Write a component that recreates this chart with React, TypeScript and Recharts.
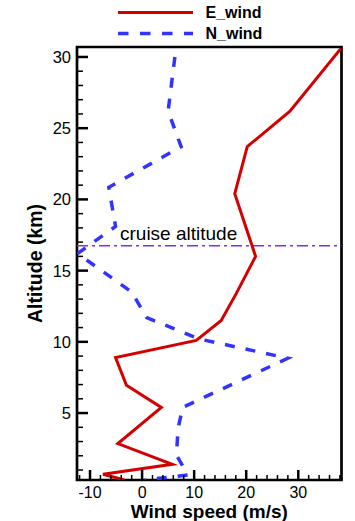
import React from "react";
import { ScatterChart, Scatter, XAxis, YAxis, ReferenceLine, ReferenceArea } from "recharts";

const FONT = '"Liberation Sans", Arial, Helvetica, sans-serif';

// E_wind profile, read top to bottom (altitude km / speed m/s)
const eWindAlt = [30.6, 26.2, 23.7, 20.4, 16.0, 13.4, 11.5, 10.1, 8.9, 6.95, 5.4, 2.86, 1.4, 0.7, 0.3];
const eWindSpeed = [38.2, 28.4, 20.2, 17.8, 21.8, 18.1, 15.2, 10.4, -5.1, -3.0, 3.7, -4.65, 5.8, -7.5, -3.4];

// N_wind profile
const nWindAlt = [30.0, 26.2, 23.7, 20.85, 18.1, 16.2, 13.5, 11.7, 10.2, 8.85, 5.4, 3.9, 2.05, 0.65, 0.3];
const nWindSpeed = [6.3, 5.0, 7.5, -6.4, -5.1, -12.4, -2.0, 0.9, 11.0, 28.0, 7.8, 6.9, 6.6, 8.8, 0.5];

const cruiseAltitude = 16.75;

const xTicks = [-12, -10, -8, -6, -4, -2, 0, 2, 4, 6, 8, 10, 12, 14, 16, 18, 20, 22, 24, 26, 28, 30, 32, 34, 36, 38];
const yTicks = Array.from({ length: 30 }, (_, i) => i + 1);

const eWind = eWindAlt.map((alt, i) => ({ alt, speed: eWindSpeed[i] }));
const nWind = nWindAlt.map((alt, i) => ({ alt, speed: nWindSpeed[i] }));

const X_DOMAIN: [number, number] = [-12.5, 38.3];
const Y_DOMAIN: [number, number] = [0.3, 30.7];

const XTick = (props: any) => {
  const { x, y, payload } = props;
  const major = payload.value % 10 === 0;
  return (
    <g>
      <line x1={x} x2={x} y1={y} y2={y - (major ? 10 : 5)} stroke="#000" strokeWidth={major ? 2.5 : 1.5} />
      {major && (
        <text x={x} y={y + 17.5} textAnchor="middle" fontSize={16} fontFamily={FONT} fill="#000">
          {payload.value}
        </text>
      )}
    </g>
  );
};

const YTick = (props: any) => {
  const { x, y, payload } = props;
  const major = payload.value % 5 === 0;
  return (
    <g>
      <line x1={x} x2={x + (major ? 11 : 6)} y1={y} y2={y} stroke="#000" strokeWidth={major ? 2.5 : 1.5} />
      {major && (
        <text x={x - 6} y={y + 6} textAnchor="end" fontSize={16.5} fontFamily={FONT} fill="#000">
          {payload.value}
        </text>
      )}
    </g>
  );
};

export default function App() {
  return (
    <div style={{ position: "absolute", left: 0, top: 0, width: 355, height: 521, background: "#fff" }}>
      <ScatterChart width={355} height={521} margin={{ top: 47, right: 13.5, bottom: 0, left: 0 }}>
        <XAxis
          type="number"
          dataKey="speed"
          domain={X_DOMAIN}
          ticks={xTicks}
          interval={0}
          tickSize={0}
          tickMargin={0}
          axisLine={false}
          tick={<XTick />}
          height={41}
          allowDataOverflow
          label={{
            content: (p: any) => (
              <text
                x={p.viewBox.x + p.viewBox.width / 2}
                y={p.viewBox.y + 37.5}
                textAnchor="middle"
                fontSize={19}
                fontWeight="bold"
                fontFamily={FONT}
                fill="#000"
              >
                Wind speed (m/s)
              </text>
            ),
          }}
        />
        <YAxis
          type="number"
          dataKey="alt"
          domain={Y_DOMAIN}
          ticks={yTicks}
          interval={0}
          tickSize={0}
          tickMargin={0}
          axisLine={false}
          tick={<YTick />}
          width={77}
          allowDataOverflow
          label={{
            content: (p: any) => {
              const cx = 35;
              const cy = p.viewBox.y + p.viewBox.height / 2;
              return (
                <text
                  x={cx}
                  y={cy}
                  transform={`rotate(-90 ${cx} ${cy})`}
                  textAnchor="middle"
                  dominantBaseline="central"
                  fontSize={19.5}
                  fontWeight="bold"
                  fontFamily={FONT}
                  fill="#000"
                >
                  Altitude (km)
                </text>
              );
            },
          }}
        />
        <ReferenceLine
          y={cruiseAltitude}
          stroke="#8a2be2"
          strokeWidth={1.5}
          strokeDasharray="11 4 3 4"
          label={{
            content: (p: any) => (
              <text x={p.viewBox.x + 43} y={p.viewBox.y - 6} fontSize={19} fontFamily={FONT} fill="#000">
                cruise altitude
              </text>
            ),
          }}
        />
        <Scatter
          data={nWind}
          isAnimationActive={false}
          line={{ stroke: "#3333ff", strokeWidth: 3.5, strokeDasharray: "10 11" }}
          shape={() => <g />}
        />
        <Scatter
          data={eWind}
          isAnimationActive={false}
          line={{ stroke: "#d40000", strokeWidth: 3 }}
          shape={() => <g />}
        />
        <ReferenceArea
          x1={X_DOMAIN[0]}
          x2={X_DOMAIN[1]}
          y1={Y_DOMAIN[0]}
          y2={Y_DOMAIN[1]}
          fill="none"
          fillOpacity={0}
          stroke="#000"
          strokeWidth={2.7}
        />
      </ScatterChart>
      <svg width={355} height={45} style={{ position: "absolute", left: 0, top: 0 }}>
        <line x1={118} x2={193} y1={12.5} y2={12.5} stroke="#d40000" strokeWidth={3} />
        <text x={205.5} y={18} fontSize={16} fontWeight="bold" fontFamily={FONT} fill="#000">
          E_wind
        </text>
        <line x1={118} x2={193} y1={33.5} y2={33.5} stroke="#3333ff" strokeWidth={3.5} strokeDasharray="10.5 11.5" />
        <text x={205.5} y={39} fontSize={16} fontWeight="bold" fontFamily={FONT} fill="#000">
          N_wind
        </text>
      </svg>
    </div>
  );
}
